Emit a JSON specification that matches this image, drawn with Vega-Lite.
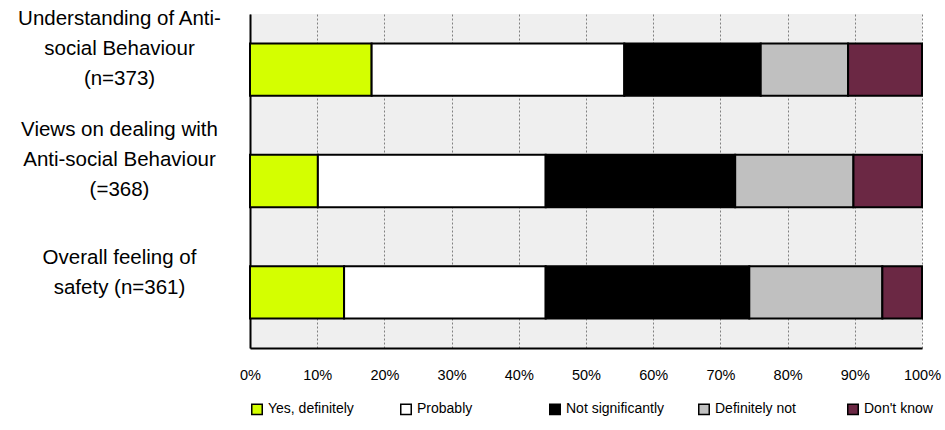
{
  "$schema": "https://vega.github.io/schema/vega-lite/v6.json",
  "width": 672,
  "height": 334,
  "autosize": "none",
  "padding": {"left": 250, "top": 14, "right": 23, "bottom": 82},
  "background": "white",
  "config": {
    "view": {"fill": "#efefef", "stroke": null},
    "font": "Liberation Sans"
  },
  "data": {
    "values": [
      {"item": "Understanding of Anti-|social Behaviour|(n=373)", "response": "Yes, definitely", "k": 1, "pct": 18.1},
      {"item": "Understanding of Anti-|social Behaviour|(n=373)", "response": "Probably", "k": 2, "pct": 37.6},
      {"item": "Understanding of Anti-|social Behaviour|(n=373)", "response": "Not significantly", "k": 3, "pct": 20.3},
      {"item": "Understanding of Anti-|social Behaviour|(n=373)", "response": "Definitely not", "k": 4, "pct": 13.0},
      {"item": "Understanding of Anti-|social Behaviour|(n=373)", "response": "Don't know", "k": 5, "pct": 11.0},
      {"item": "Views on dealing with|Anti-social Behaviour|(=368)", "response": "Yes, definitely", "k": 1, "pct": 10.1},
      {"item": "Views on dealing with|Anti-social Behaviour|(=368)", "response": "Probably", "k": 2, "pct": 33.9},
      {"item": "Views on dealing with|Anti-social Behaviour|(=368)", "response": "Not significantly", "k": 3, "pct": 28.2},
      {"item": "Views on dealing with|Anti-social Behaviour|(=368)", "response": "Definitely not", "k": 4, "pct": 17.6},
      {"item": "Views on dealing with|Anti-social Behaviour|(=368)", "response": "Don't know", "k": 5, "pct": 10.2},
      {"item": "Overall feeling of|safety (n=361)", "response": "Yes, definitely", "k": 1, "pct": 14.0},
      {"item": "Overall feeling of|safety (n=361)", "response": "Probably", "k": 2, "pct": 30.0},
      {"item": "Overall feeling of|safety (n=361)", "response": "Not significantly", "k": 3, "pct": 30.3},
      {"item": "Overall feeling of|safety (n=361)", "response": "Definitely not", "k": 4, "pct": 19.8},
      {"item": "Overall feeling of|safety (n=361)", "response": "Don't know", "k": 5, "pct": 5.9}
    ]
  },
  "mark": {"type": "bar", "stroke": "black", "strokeWidth": 2},
  "encoding": {
    "y": {
      "field": "item",
      "type": "nominal",
      "sort": null,
      "scale": {"paddingInner": 0.53, "paddingOuter": 0.265},
      "axis": {
        "title": null,
        "labelExpr": "split(datum.label, '|')",
        "labelAlign": "center",
        "labelBaseline": "middle",
        "labelPadding": 131,
        "labelOffset": {"condition": {"test": "indexof(datum.value, 'Overall') == 0", "value": -34}, "value": -51},
        "labelLineHeight": 30,
        "labelFontSize": 20.5,
        "labelColor": "black",
        "labelLimit": 0,
        "ticks": false,
        "tickSize": 0,
        "grid": false,
        "domainColor": "black",
        "domainWidth": 2
      }
    },
    "x": {
      "field": "pct",
      "type": "quantitative",
      "stack": "normalize",
      "scale": {"domain": [0, 1], "nice": false},
      "axis": {
        "title": null,
        "format": ".0%",
        "values": [0, 0.1, 0.2, 0.3, 0.4, 0.5, 0.6, 0.7, 0.8, 0.9, 1],
        "labelFontSize": 14.5,
        "labelColor": "black",
        "labelPadding": 20,
        "ticks": false,
        "tickSize": 0,
        "labelFlush": false,
        "grid": true,
        "gridColor": "#808080",
        "gridDash": [2, 2],
        "gridWidth": 1,
        "domainColor": "black",
        "domainWidth": 2
      }
    },
    "color": {
      "field": "response",
      "type": "nominal",
      "sort": ["Yes, definitely", "Probably", "Not significantly", "Definitely not", "Don't know"],
      "scale": {
        "domain": ["Yes, definitely", "Probably", "Not significantly", "Definitely not", "Don't know"],
        "range": ["#d4ff00", "#ffffff", "#000000", "#c0c0c0", "#6b2844"]
      },
      "legend": {
        "title": null,
        "orient": "none",
        "legendX": 0,
        "legendY": 388,
        "direction": "horizontal",
        "gridAlign": "all",
        "symbolType": "square",
        "symbolSize": 110,
        "symbolStrokeColor": "black",
        "symbolStrokeWidth": 1.5,
        "labelFontSize": 14,
        "labelColor": "black",
        "labelLimit": 0,
        "labelOffset": 4,
        "columnPadding": 30
      }
    },
    "order": {"field": "k"}
  }
}
